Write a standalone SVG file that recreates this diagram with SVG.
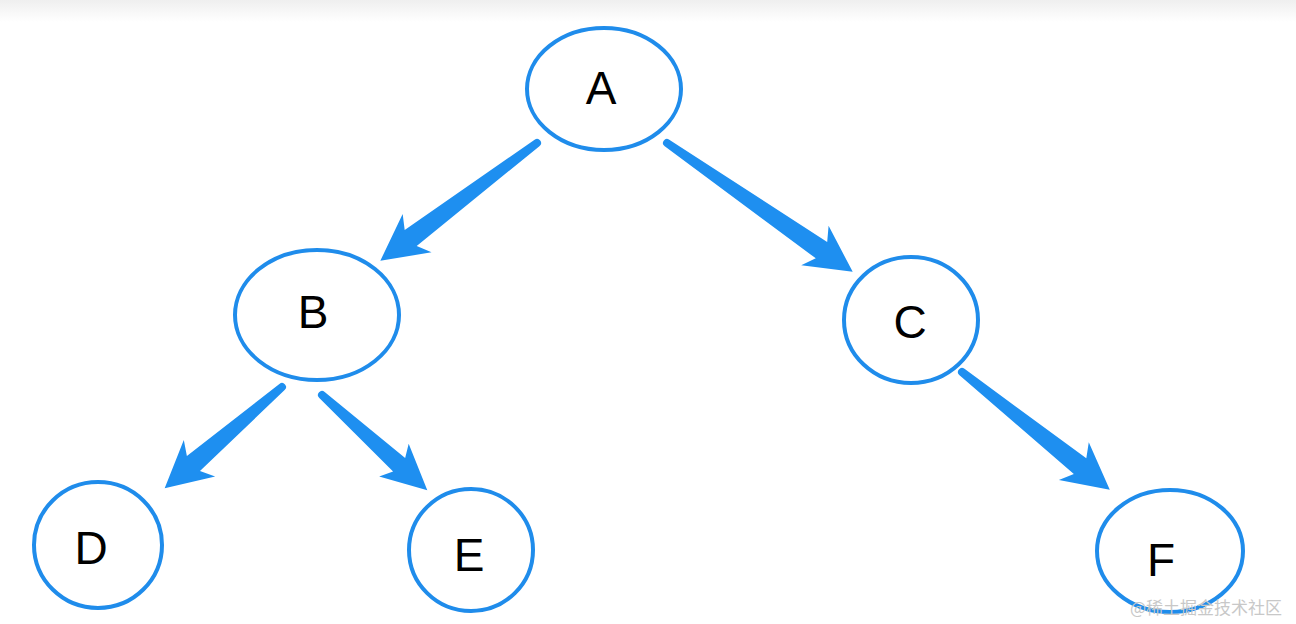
<svg xmlns="http://www.w3.org/2000/svg" width="1296" height="624" viewBox="0 0 1296 624">
<defs>
<linearGradient id="top" x1="0" y1="0" x2="0" y2="1">
<stop offset="0" stop-color="#efefef"/>
<stop offset="1" stop-color="#ffffff"/>
</linearGradient>
</defs>
<style>
.node ellipse{fill:#fff;stroke:#1f8ceb;stroke-width:4}
.node text{font-family:"Liberation Sans",Arial,sans-serif;font-size:46px;fill:#000;text-anchor:middle;dominant-baseline:central}
.arrow{fill:#1e8ff0}
.wm{font-family:"Noto Sans CJK SC",sans-serif;font-size:17px;fill:#c8c8c8}
</style>
<rect width="1296" height="624" fill="#fff"/>
<rect width="1296" height="22" fill="url(#top)"/>
<g id="connectors">
<path class="arrow" transform="translate(537,143) rotate(143.07)" d="M0,-4 L158,-10 L150,-24 L196,0 L150,24 L158,10 L0,4 A4,4 0 0 1 0,-4Z"/>
<path class="arrow" transform="translate(667,143) rotate(34.74)" d="M0,-4 L188,-10 L180,-24 L226,0 L180,24 L188,10 L0,4 A4,4 0 0 1 0,-4Z"/>
<path class="arrow" transform="translate(282,387) rotate(139.2)" d="M0,-4 L117,-10 L109,-24 L155,0 L109,24 L117,10 L0,4 A4,4 0 0 1 0,-4Z"/>
<path class="arrow" transform="translate(322,395) rotate(42.14)" d="M0,-4 L104,-9 L97,-22 L142,0 L97,22 L104,9 L0,4 A4,4 0 0 1 0,-4Z"/>
<path class="arrow" transform="translate(962,372) rotate(38.56)" d="M0,-4 L151,-10 L143,-24 L189,0 L143,24 L151,10 L0,4 A4,4 0 0 1 0,-4Z"/>
</g>
<g id="node-A" class="node"><ellipse cx="604" cy="89" rx="77" ry="61"/><text x="601" y="88">A</text></g>
<g id="node-B" class="node"><ellipse cx="317" cy="315" rx="82" ry="65"/><text x="313" y="312">B</text></g>
<g id="node-C" class="node"><ellipse cx="911" cy="320" rx="67" ry="63"/><text x="910" y="322">C</text></g>
<g id="node-D" class="node"><ellipse cx="98" cy="545" rx="64" ry="63"/><text x="91" y="548">D</text></g>
<g id="node-E" class="node"><ellipse cx="471" cy="550" rx="62" ry="61"/><text x="469" y="555">E</text></g>
<g id="node-F" class="node"><ellipse cx="1170" cy="551" rx="73" ry="61"/><text x="1161" y="560">F</text></g>
<text class="wm" x="1130" y="614">@稀土掘金技术社区</text>
</svg>
